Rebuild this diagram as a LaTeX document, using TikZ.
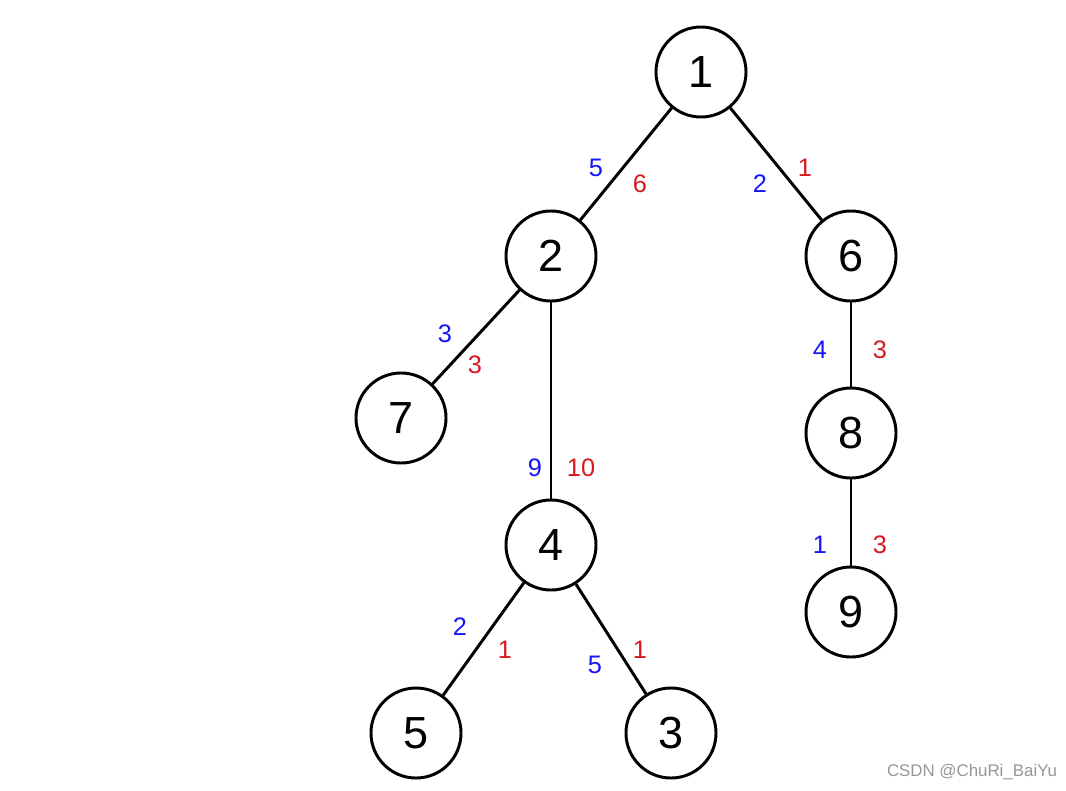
\documentclass[tikz,border=0pt]{standalone}
\usepackage{fontspec}
\setmainfont{Liberation Sans}
\usepackage{tikz}
\usetikzlibrary{calc}
\definecolor{wblue}{RGB}{20,20,250}
\definecolor{wred}{RGB}{215,25,30}
\definecolor{markgray}{RGB}{150,150,150}

\begin{document}
\begin{tikzpicture}[x=0.025cm,y=-0.025cm,
  vert/.style={draw,circle,line width=2.1pt,minimum size=2.25cm,inner sep=0pt,font=\fontsize{32}{32}\selectfont},
  wa/.style={text=wblue,font=\fontsize{18}{18}\selectfont,inner sep=0pt},
  wb/.style={text=wred,font=\fontsize{18}{18}\selectfont,inner sep=0pt}]
  \useasboundingbox (0,0) rectangle (1066,790);
  % vertices
  \node[vert] (v1) at (701,72) {1};
  \node[vert] (v2) at (551,256) {2};
  \node[vert] (v6) at (851,256) {6};
  \node[vert] (v7) at (401,418) {7};
  \node[vert] (v4) at (551,545) {4};
  \node[vert] (v8) at (851,433) {8};
  \node[vert] (v9) at (851,612) {9};
  \node[vert] (v5) at (416,733) {5};
  \node[vert] (v3) at (671,733) {3};
  % edges
  \foreach \a/\b in {v1/v2,v1/v6,v2/v7,v2/v4,v6/v8,v8/v9,v4/v5,v4/v3}
    \draw[line width=2.1pt] (\a) -- (\b);
  % edge weights
  \node[wa] (a12) at (596,168) {5};  \node[wb] (b12) at (640,184) {6};
  \node[wa] (a16) at (760,184) {2};  \node[wb] (b16) at (805,168) {1};
  \node[wa] (a27) at (445,334) {3};  \node[wb] (b27) at (475,365) {3};
  \node[wa] (a24) at (535,468) {9};  \node[wb] (b24) at (581,468) {10};
  \node[wa] (a68) at (820,350) {4};  \node[wb] (b68) at (880,350) {3};
  \node[wa] (a89) at (820,545) {1};  \node[wb] (b89) at (880,545) {3};
  \node[wa] (a45) at (460,627) {2};  \node[wb] (b45) at (505,650) {1};
  \node[wa] (a43) at (595,665) {5};  \node[wb] (b43) at (640,650) {1};
  % watermark
  \node[text=markgray,font=\fontsize{12}{12}\selectfont,inner sep=0pt] (mark) at (972,772) {CSDN @ChuRi\_BaiYu};
\end{tikzpicture}
\end{document}
